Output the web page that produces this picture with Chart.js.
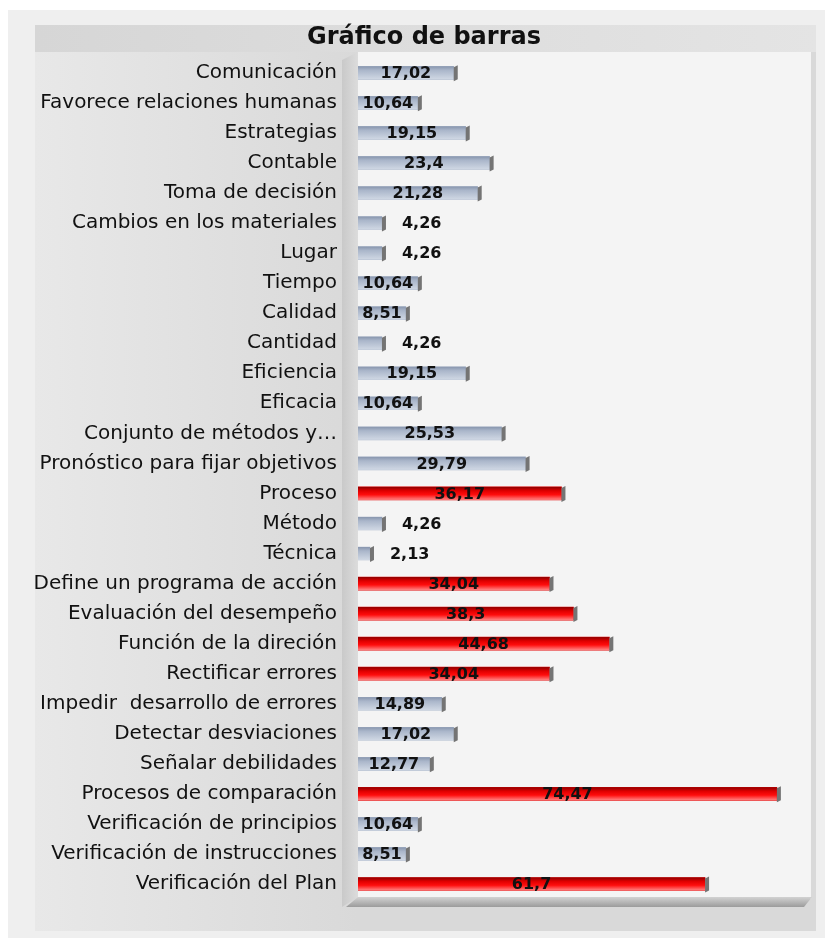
<!DOCTYPE html>
<html>
<head>
<meta charset="utf-8">
<script src="https://cdn.jsdelivr.net/npm/chart.js@4/dist/chart.umd.min.js"></script>
<style>
  html, body { margin: 0; padding: 0; background: #fff; }
  canvas { display: block; }
</style>
</head>
<body>
<canvas id="graficoBarras" width="825" height="938"></canvas>
<script>
const categorias = [
  "Comunicación", "Favorece relaciones humanas", "Estrategias", "Contable",
  "Toma de decisión", "Cambios en los materiales", "Lugar", "Tiempo", "Calidad",
  "Cantidad", "Eficiencia", "Eficacia", "Conjunto de métodos y…",
  "Pronóstico para fijar objetivos", "Proceso", "Método", "Técnica",
  "Define un programa de acción", "Evaluación del desempeño",
  "Función de la direción", "Rectificar errores", "Impedir  desarrollo de errores",
  "Detectar desviaciones", "Señalar debilidades", "Procesos de comparación",
  "Verificación de principios", "Verificación de instrucciones", "Verificación del Plan"
];
const porcentajes = [
  17.02, 10.64, 19.15, 23.4, 21.28, 4.26, 4.26, 10.64, 8.51, 4.26, 19.15, 10.64,
  25.53, 29.79, 36.17, 4.26, 2.13, 34.04, 38.3, 44.68, 34.04, 14.89, 17.02,
  12.77, 74.47, 10.64, 8.51, 61.7
];
// barras por encima de este valor van en rojo
const limiteRojo = 30;

const esRojo = v => v > limiteRojo;
const formato = v => String(v).replace(".", ",");

// fondo: marco, panel, pared y piso del gráfico 3D
const fondo = {
  id: "fondo",
  afterLayout(chart) {
    // que las etiquetas largas no se recorten en el borde del eje
    chart.scales.y.left = 0;
  },
  beforeDraw(chart) {
    const { ctx, chartArea: a } = chart;
    ctx.save();
    ctx.fillStyle = "#ffffff";
    ctx.fillRect(0, 0, chart.width, chart.height);
    ctx.fillStyle = "#efefef";
    ctx.fillRect(8, 10, chart.width - 8, chart.height - 10);

    let g = ctx.createLinearGradient(35, 0, a.left, 0);
    g.addColorStop(0, "#e8e8e8");
    g.addColorStop(1, "#d9d9d9");
    ctx.fillStyle = g;
    ctx.fillRect(35, 25, a.right + 8 - 35, 906);

    g = ctx.createLinearGradient(35, 0, a.right + 8, 0);
    g.addColorStop(0, "#d6d6d6");
    g.addColorStop(1, "#e4e4e4");
    ctx.fillStyle = g;
    ctx.fillRect(35, 25, a.right + 8 - 35, 27);

    // pared del fondo
    ctx.fillStyle = "#f4f4f4";
    ctx.fillRect(a.left, 52, a.right + 3 - a.left, a.bottom - 52);

    // pared lateral
    g = ctx.createLinearGradient(a.left - 16, 0, a.left, 0);
    g.addColorStop(0, "#c9c9c9");
    g.addColorStop(1, "#dcdcdc");
    ctx.fillStyle = g;
    ctx.beginPath();
    ctx.moveTo(a.left - 16, 60);
    ctx.lineTo(a.left, 52);
    ctx.lineTo(a.left, a.bottom - 2);
    ctx.lineTo(a.left - 16, a.bottom + 8);
    ctx.closePath();
    ctx.fill();

    // piso
    g = ctx.createLinearGradient(0, a.bottom - 2, 0, a.bottom + 8);
    g.addColorStop(0, "#d2d2d2");
    g.addColorStop(1, "#9c9c9c");
    ctx.fillStyle = g;
    ctx.beginPath();
    ctx.moveTo(a.left, a.bottom - 2);
    ctx.lineTo(a.right + 4, a.bottom - 2);
    ctx.lineTo(a.right - 4, a.bottom + 8);
    ctx.lineTo(a.left - 12, a.bottom + 8);
    ctx.closePath();
    ctx.fill();
    ctx.restore();
  }
};

// efecto 3D de las barras y etiquetas de valor
const barras3d = {
  id: "barras3d",
  afterDatasetsDraw(chart) {
    const ctx = chart.ctx;
    const meta = chart.getDatasetMeta(0);
    ctx.save();
    meta.data.forEach((bar, i) => {
      const { x, y, base, height } = bar.getProps(["x", "y", "base", "height"], true);
      const top = y - height / 2, bot = y + height / 2;
      const rojo = esRojo(porcentajes[i]);
      const g = ctx.createLinearGradient(0, top, 0, bot);
      if (rojo) {
        g.addColorStop(0, "#8c0000");
        g.addColorStop(0.3, "#e00000");
        g.addColorStop(0.6, "#ff0d0d");
        g.addColorStop(1, "#ff8585");
      } else {
        g.addColorStop(0, "#8795ad");
        g.addColorStop(0.3, "#aab6ca");
        g.addColorStop(1, "#d0d8e4");
      }
      ctx.fillStyle = g;
      ctx.fillRect(base, top, x - base, height);
      ctx.fillStyle = "#747474";
      ctx.beginPath();
      ctx.moveTo(x, top + 1);
      ctx.lineTo(x + 4, top - 1);
      ctx.lineTo(x + 4, bot);
      ctx.lineTo(x, bot + 2);
      ctx.closePath();
      ctx.fill();
    });

    ctx.font = "bold 16px 'DejaVu Sans'";
    ctx.fillStyle = "#111111";
    ctx.textBaseline = "middle";
    ctx.textAlign = "center";
    meta.data.forEach((bar, i) => {
      const { x, y, base } = bar.getProps(["x", "y", "base"], true);
      const txt = formato(porcentajes[i]);
      const w = ctx.measureText(txt).width;
      const cx = w > x - base ? x + 20 + w / 2 : (x + base) / 2;
      ctx.fillText(txt, cx, y + 1);
    });
    ctx.restore();
  }
};

new Chart(document.getElementById("graficoBarras"), {
  type: "bar",
  data: {
    labels: categorias,
    datasets: [{
      data: porcentajes,
      backgroundColor: porcentajes.map(v => esRojo(v) ? "#e00000" : "#aab6ca"),
      borderWidth: 0,
      barThickness: 13
    }]
  },
  options: {
    indexAxis: "y",
    responsive: false,
    animation: false,
    layout: { padding: { left: 40, right: 17, top: 0, bottom: 39 } },
    scales: {
      x: { display: false, min: 0, max: 80 },
      y: {
        grid: { display: false, drawTicks: false },
        border: { display: false },
        ticks: {
          autoSkip: false,
          padding: 21,
          color: "#111111",
          font: { family: "'DejaVu Sans'", size: 20 }
        },
        afterFit(scale) { scale.width = 318; }
      }
    },
    plugins: {
      legend: { display: false },
      tooltip: { enabled: false },
      title: {
        display: true,
        text: "Gráfico de barras",
        color: "#111111",
        font: { family: "'DejaVu Sans'", size: 24, weight: "bold" },
        padding: { top: 23, bottom: 6 }
      }
    }
  },
  plugins: [fondo, barras3d]
});
</script>
</body>
</html>
